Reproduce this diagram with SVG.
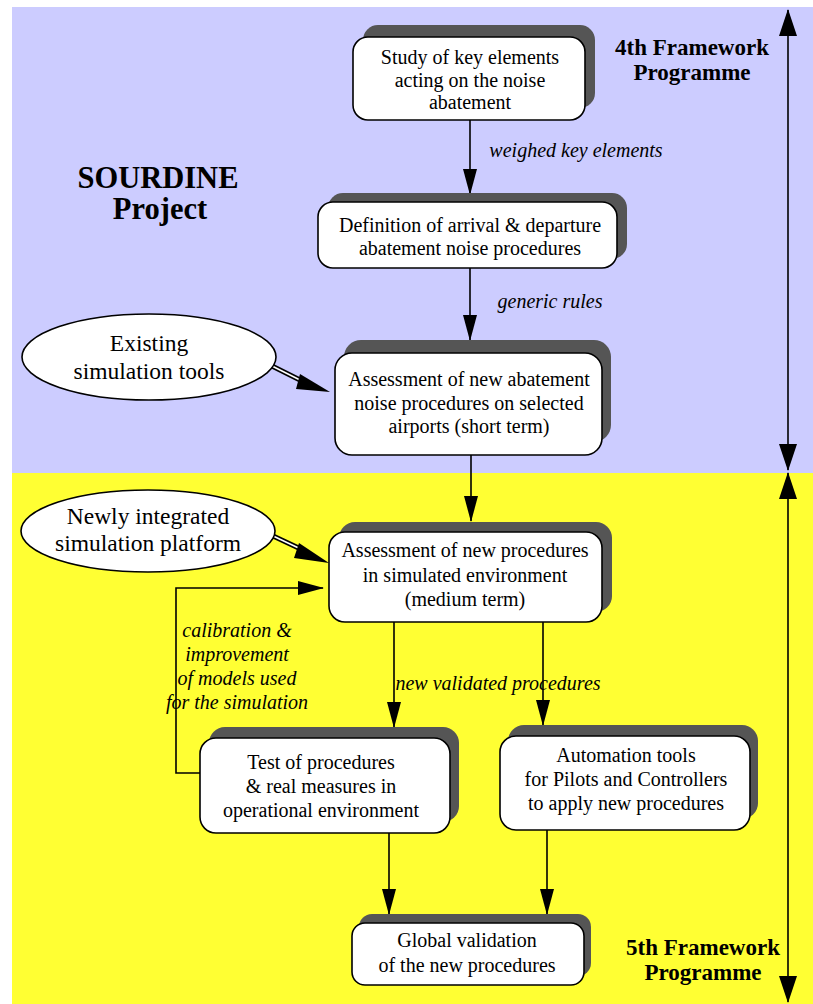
<svg xmlns="http://www.w3.org/2000/svg" width="813" height="1004" viewBox="0 0 813 1004">
<defs>
<style>
text{font-family:"Liberation Serif",Tinos,"Times New Roman","DejaVu Serif",serif;fill:#000;text-anchor:middle}
.t{font-size:20px}
.te{font-size:23.5px}
.it{font-size:20px;font-style:italic}
.b{font-size:23px;font-weight:bold}
.bb{font-size:30.5px;font-weight:bold}
.bx{fill:#fff;stroke:#000;stroke-width:1.6}
.sh{fill:#555}
.ln{stroke:#000;stroke-width:1.6;fill:none}
.el{fill:#fff;stroke:#000;stroke-width:1.6}
</style>
<marker id="ah" markerWidth="26" markerHeight="14" refX="25" refY="7" viewBox="0 0 26 14" orient="auto" markerUnits="userSpaceOnUse">
<path d="M0,0 L26,7 L0,14 Z" fill="#000"/>
</marker>
<marker id="ah2" markerWidth="27" markerHeight="18" refX="26" refY="9" viewBox="0 0 27 18" orient="auto-start-reverse" markerUnits="userSpaceOnUse">
<path d="M0,0 L27,9 L0,18 Z" fill="#000"/>
</marker>
</defs>
<rect x="12" y="7" width="801" height="466" fill="#CCCCFF"/>
<rect x="12" y="473" width="801" height="531" fill="#FFFF33"/>

<g id="title">
<text class="bb" x="158" y="188">SOURDINE</text>
<text class="bb" x="160" y="219">Project</text>
</g>
<g id="fp4">
<text class="b" x="692" y="55">4th Framework</text>
<text class="b" x="692" y="80">Programme</text>
</g>
<g id="fp5">
<text class="b" x="703" y="955">5th Framework</text>
<text class="b" x="703" y="980">Programme</text>
</g>

<g id="connectors">
<path class="ln" d="M470,120 V194" marker-end="url(#ah)"/>
<path class="ln" d="M470,268 V340" marker-end="url(#ah)"/>
<path class="ln" d="M471,455 V521" marker-end="url(#ah)"/>
<path class="ln" d="M394,622 V727" marker-end="url(#ah)"/>
<path class="ln" d="M543,622 V725" marker-end="url(#ah)"/>
<path class="ln" d="M389,833 V914" marker-end="url(#ah)"/>
<path class="ln" d="M547,830 V914" marker-end="url(#ah)"/>
<path class="ln" d="M200,773 H176 V588 H323" marker-end="url(#ah)"/>
<path d="M268,364 L306,383" stroke="#000" stroke-width="5" fill="none"/>
<path d="M268,364 L308,384" stroke="#fff" stroke-width="1.6" fill="none"/>
<path d="M300,374 L330,392 L296,389 Z" fill="#000"/>
<path d="M271,535 L305,551" stroke="#000" stroke-width="5" fill="none"/>
<path d="M271,535 L307,552" stroke="#fff" stroke-width="1.6" fill="none"/>
<path d="M299,543 L329,563 L294,558 Z" fill="#000"/>
<path class="ln" d="M788,10 V470" marker-start="url(#ah2)" marker-end="url(#ah2)"/>
<path class="ln" d="M788,473 V1002" marker-start="url(#ah2)" marker-end="url(#ah2)"/>
<text class="it" x="576" y="157">weighed key elements</text>
<text class="it" x="550" y="308">generic rules</text>
<text class="it" x="498" y="690">new validated procedures</text>
<text class="it" x="237" y="637">calibration &amp;</text>
<text class="it" x="237" y="661">improvement</text>
<text class="it" x="237" y="685">of models used</text>
<text class="it" x="237" y="709">for the simulation</text>
</g>

<g id="n-study">
<rect class="sh" x="363" y="25" width="232" height="83" rx="15"/>
<rect class="bx" x="353" y="37" width="232" height="83" rx="15"/>
<text class="t" x="470" y="64">Study of key elements</text>
<text class="t" x="470" y="87">acting on the noise</text>
<text class="t" x="470" y="109">abatement</text>
</g>
<g id="n-definition">
<rect class="sh" x="328" y="193" width="299" height="66" rx="15"/>
<rect class="bx" x="318" y="202" width="299" height="66" rx="15"/>
<text class="t" x="470" y="232">Definition of arrival &amp; departure</text>
<text class="t" x="470" y="255">abatement noise procedures</text>
</g>
<g id="n-assess-short">
<rect class="sh" x="344" y="340" width="267" height="102" rx="17"/>
<rect class="bx" x="335" y="353" width="267" height="102" rx="17"/>
<text class="t" x="469" y="386">Assessment of new abatement</text>
<text class="t" x="469" y="410">noise procedures on selected</text>
<text class="t" x="469" y="433">airports (short term)</text>
</g>
<g id="n-existing">
<ellipse class="el" cx="149" cy="357" rx="127" ry="43"/>
<text class="te" x="149" y="351">Existing</text>
<text class="te" x="149" y="379">simulation tools</text>
</g>
<g id="n-newly">
<ellipse class="el" cx="148" cy="531" rx="127" ry="41"/>
<text class="te" x="148" y="524">Newly integrated</text>
<text class="te" x="148" y="551">simulation platform</text>
</g>
<g id="n-assess-medium">
<rect class="sh" x="339" y="522" width="273" height="90" rx="16"/>
<rect class="bx" x="329" y="532" width="273" height="90" rx="16"/>
<text class="t" x="465" y="557">Assessment of new procedures</text>
<text class="t" x="465" y="582">in simulated environment</text>
<text class="t" x="465" y="606">(medium term)</text>
</g>
<g id="n-test">
<rect class="sh" x="209" y="727" width="250" height="95" rx="16"/>
<rect class="bx" x="200" y="738" width="250" height="95" rx="16"/>
<text class="t" x="321" y="769">Test of procedures</text>
<text class="t" x="321" y="793">&amp; real measures in</text>
<text class="t" x="321" y="817">operational environment</text>
</g>
<g id="n-automation">
<rect class="sh" x="508" y="725" width="250" height="94" rx="16"/>
<rect class="bx" x="500" y="736" width="250" height="94" rx="16"/>
<text class="t" x="626" y="762">Automation tools</text>
<text class="t" x="626" y="786">for Pilots and Controllers</text>
<text class="t" x="626" y="810">to apply new procedures</text>
</g>
<g id="n-global">
<rect class="sh" x="359" y="914" width="232" height="62" rx="13"/>
<rect class="bx" x="352" y="923" width="232" height="62" rx="13"/>
<text class="t" x="467" y="947">Global validation</text>
<text class="t" x="467" y="972">of the new procedures</text>
</g>
</svg>
